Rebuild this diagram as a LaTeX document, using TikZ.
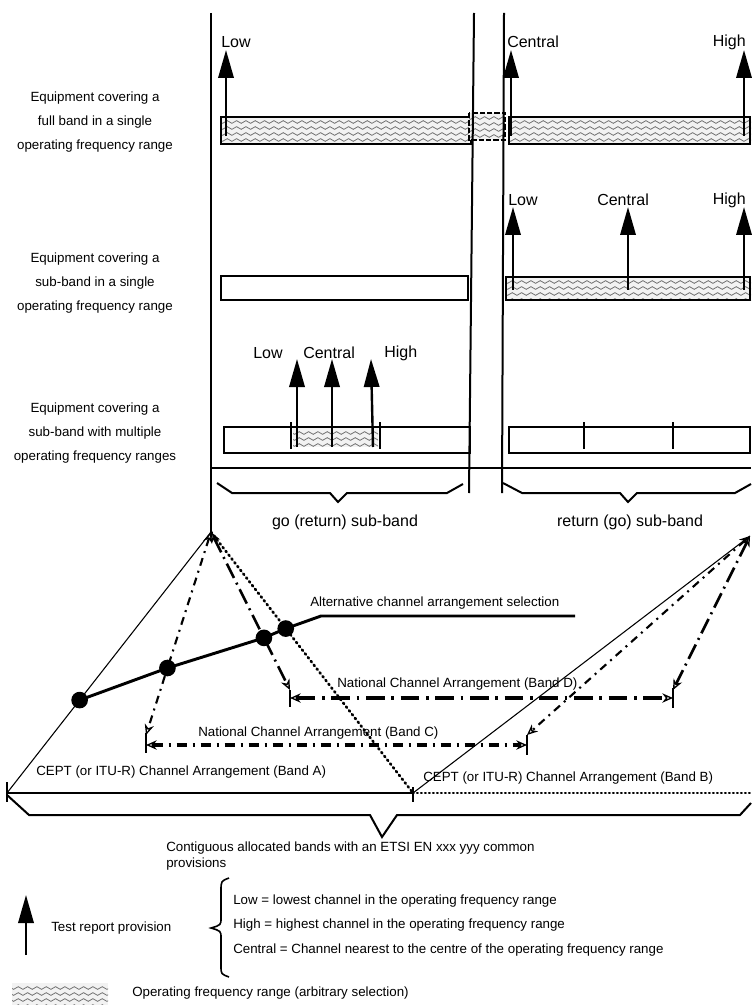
\documentclass[tikz,border=0pt]{standalone}
\usepackage{fontspec}
\setmainfont{Liberation Sans}
\usetikzlibrary{arrows.meta}
\usetikzlibrary{decorations.pathmorphing}

\tikzset{
	wave/.style={draw=black!55, line width=0.6pt, decorate,
		decoration={snake, segment length=7pt, amplitude=1pt}},
	testarrow/.style={-{Triangle[width=11.5pt,length=21pt]}, line width=1.8pt},
	bandbox/.style={draw, line width=1.5pt},
	frame/.style={line width=1.5pt},
	thinline/.style={line width=0.8pt},
	dotline/.style={line width=2pt, line cap=round, dash pattern=on 1pt off 2.6pt},
	fineslant/.style={<->, line width=1.6pt, dash pattern=on 6pt off 4pt on 1.5pt off 4pt},
	longslant/.style={<->, line width=2pt, dash pattern=on 12pt off 4pt on 1.5pt off 4pt},
	bandC/.style={<->, line width=2.4pt, dash pattern=on 8pt off 4pt on 2pt off 4pt},
	bandD/.style={<->, line width=2.4pt, dash pattern=on 14pt off 5pt on 2pt off 5pt},
	selDot/.style={circle, fill, inner sep=0pt, minimum size=12.5pt},
	rowlabel/.style={font=\fontsize{10}{18}\selectfont, align=center, inner sep=0pt},
	lbl/.style={font=\fontsize{10}{12}\selectfont, inner sep=0pt},
	biglbl/.style={font=\fontsize{12}{14}\selectfont, inner sep=0pt},
	>={Stealth[open, length=8pt, width=7pt, line width=1pt]}
}

\newcommand{\drawwaveband}[4]{% x1, y1, x2, y2
	\begin{scope}
		\clip (#1,#2) rectangle (#3,#4);
		\fill[black!5] (#1,#2) rectangle (#3,#4);
		\foreach \k in {5,11,17,23}
			\draw[wave] (#1-6,#2+\k) -- (#3+6,#2+\k);
	\end{scope}
}

\begin{document}
\begin{tikzpicture}[x=0.75pt, y=-0.75pt]
\useasboundingbox (0,0) rectangle (751,1005);

\coordinate (topL) at (211,13);
\coordinate (apexL) at (211,532);
\coordinate (apexR) at (750,536);
\coordinate (midA) at (474,13);
\coordinate (midAend) at (469,493);
\coordinate (midB) at (504,13);
\coordinate (midBend) at (502,493);
\coordinate (cornerL) at (7,793);
\coordinate (cornerM) at (413,793);
\coordinate (cornerR) at (751,793);
\coordinate (bandCL) at (146,745);
\coordinate (bandCR) at (527,745);
\coordinate (bandDL) at (290,698);
\coordinate (bandDR) at (673,698);

% full band
\drawwaveband{221}{117}{471}{144}
\draw[bandbox] (221,117) rectangle (471,144);
\drawwaveband{469}{113}{505}{140}
\draw[line width=1.2pt, dash pattern=on 4pt off 1.5pt] (469,113) rectangle (505,140);
\drawwaveband{509}{117}{751}{144}
\draw[bandbox] (509,117) rectangle (750,144);
\foreach \x in {226, 511, 744}
	\draw[testarrow] (\x,136) -- (\x,50);
\node[biglbl, anchor=west] (lowFull) at (221,42) {Low};
\node[biglbl, anchor=west] (centralFull) at (507,42) {Central};
\node[biglbl, anchor=east] (highFull) at (746,42) {High};

% single sub-band
\draw[bandbox] (221,276) rectangle (468,300);
\drawwaveband{506}{277}{751}{300}
\draw[bandbox] (506,277) rectangle (750,300);
\foreach \x in {513, 628, 744}
	\draw[testarrow] (\x,290) -- (\x,207);
\node[biglbl, anchor=west] (lowSub) at (508,200) {Low};
\node[biglbl, anchor=west] (centralSub) at (597,200) {Central};
\node[biglbl, anchor=east] (highSub) at (746,200) {High};

% multiple ranges
\draw[bandbox] (224,427) rectangle (470,453);
\drawwaveband{293}{428}{378}{447}
\draw[bandbox] (509,427) rectangle (750,453);
\foreach \x in {291, 380, 584, 673}
	\draw[frame] (\x,422) -- (\x,449);
\draw[testarrow] (297,447) -- (297,359);
\draw[testarrow] (332,447) -- (332,359);
\draw[testarrow] (373,447) -- (371,359);
\node[biglbl, anchor=west] (lowMulti) at (253,353) {Low};
\node[biglbl, anchor=west] (centralMulti) at (303,353) {Central};
\node[biglbl, anchor=west] (highMulti) at (384,353) {High};

\draw[frame] (topL) -- (apexL);
\draw[frame] (midA) -- (midAend);
\draw[frame] (midB) -- (midBend);
\draw[frame] (211,468) -- (751,468);

\node[rowlabel] (fullBand) at (95,122) {Equipment covering a\\full band in a single\\operating frequency range};
\node[rowlabel] (subBand) at (95,283) {Equipment covering a\\sub-band in a single\\operating frequency range};
\node[rowlabel] (multiBand) at (95,433) {Equipment covering a\\sub-band with multiple\\operating frequency ranges};

\draw[frame] (217,483) -- (232,493) -- (330,493) -- (338,502) -- (347,493) -- (447,493) -- (463,484);
\draw[frame] (503,483) -- (522,493) -- (620,493) -- (628,502) -- (637,493) -- (735,493) -- (751,484);
\node[biglbl] (goBand) at (345,522) {go (return) sub-band};
\node[biglbl] (returnBand) at (630,522) {return (go) sub-band};

% channel arrangements
\draw[thinline] (apexL) -- (cornerL);
\draw[thinline] (cornerM) -- (apexR);
\draw[dotline] (apexL) -- (cornerM);
\draw[line width=1.2pt] (cornerL) -- (cornerM);
\draw[dotline, line width=1.6pt, dash pattern=on 0.6pt off 2.4pt] (cornerM) -- (cornerR);
\draw[line width=1.2pt] (7,782) -- (7,802);
\draw[line width=1.2pt] (413,787) -- (413,802);

\draw[fineslant] (apexL) -- (146,735);
\draw[longslant] (apexL) -- (290,690);
\draw[fineslant] (apexR) -- (527,735);
\draw[longslant] (apexR) -- (673,690);

\draw[bandC] (bandCL) -- (bandCR);
\draw[bandD] (bandDL) -- (bandDR);
\draw[frame] (146,733) -- (146,753);
\draw[frame] (527,735) -- (527,755);
\draw[frame] (290,690) -- (290,707);
\draw[frame] (673,688) -- (673,708);

\path (apexL) -- (cornerL) node[selDot, pos=0.644] (sel1) {};
\path (apexL) -- (146,735) node[selDot, pos=0.67] (sel2) {};
\path (apexL) -- (290,690) node[selDot, pos=0.67] (sel3) {};
\path (apexL) -- (cornerM) node[selDot, pos=0.37] (sel4) {};
\coordinate (altBend) at (321,616);
\coordinate (altEnd) at (575,616);
\draw[line width=2.2pt] (sel1.center) -- (sel2.center) -- (sel3.center) -- (sel4.center) -- (altBend) -- (altEnd);

\node[lbl, anchor=west] (altSel) at (310,603) {Alternative channel arrangement selection};
\node[lbl, anchor=west] (natD) at (337,684) {National Channel Arrangement (Band D)};
\node[lbl, anchor=west] (natC) at (198,733) {National Channel Arrangement (Band C)};
\node[lbl, anchor=west] (ceptA) at (36,772) {CEPT (or ITU-R) Channel Arrangement (Band A)};
\node[lbl, anchor=west] (ceptB) at (423,778) {CEPT (or ITU-R) Channel Arrangement (Band B)};

\draw[frame] (7,795) -- (29,815) -- (370,815) -- (382,837) -- (397,815) -- (740,815) -- (751,803);
\node[lbl, anchor=north west, align=left] (contig) at (166,842) {Contiguous allocated bands with an ETSI EN xxx yyy common\\provisions};

% legend
\draw[testarrow] (26,955) -- (26,895);
\node[lbl, anchor=west] (testRep) at (51,928) {Test report provision};
\draw[line width=1.2pt] (229,878) .. controls (221,881) .. (221,891) -- (221,918)
	.. controls (221,925) .. (211,928) .. controls (221,931) .. (221,938) -- (221,966)
	.. controls (221,974) .. (229,977);
\node[lbl, anchor=west] (lowDef) at (233,901) {Low = lowest channel in the operating frequency range};
\node[lbl, anchor=west] (highDef) at (233,925) {High = highest channel in the operating frequency range};
\node[lbl, anchor=west] (centralDef) at (233,950) {Central = Channel nearest to the centre of the operating frequency range};
\drawwaveband{12}{983}{108}{1005}
\node[lbl, anchor=west] (opRange) at (132,993) {Operating frequency range (arbitrary selection)};
\end{tikzpicture}
\end{document}
